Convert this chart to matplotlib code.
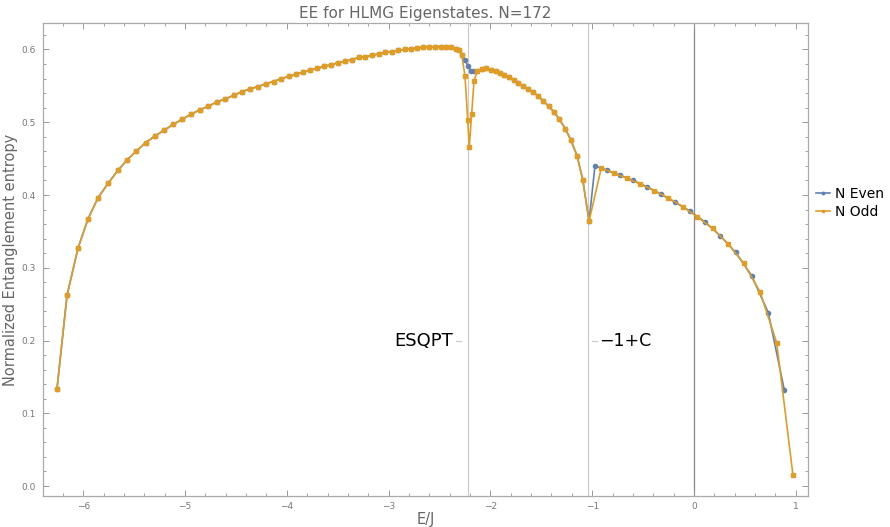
import numpy as np
import matplotlib.pyplot as plt
from matplotlib.ticker import MultipleLocator

# energies (E/J) and normalized entanglement entropy
left_E = [-6.257, -6.159, -6.051, -5.953, -5.855, -5.756, -5.658, -5.570, -5.481, -5.386,
          -5.295, -5.206, -5.115, -5.029, -4.941, -4.856, -4.771, -4.686, -4.604, -4.522,
          -4.440, -4.361, -4.283, -4.204, -4.129, -4.054, -3.978, -3.905, -3.838, -3.769,
          -3.700, -3.632, -3.563, -3.494, -3.425, -3.360, -3.294, -3.229, -3.163, -3.097,
          -3.032, -2.967, -2.905, -2.842, -2.780, -2.718, -2.659, -2.600, -2.541, -2.485,
          -2.433, -2.384, -2.341, -2.308, -2.282]
left_S = [0.134, 0.262, 0.327, 0.367, 0.396, 0.416, 0.434, 0.448, 0.460, 0.472,
          0.481, 0.489, 0.497, 0.504, 0.511, 0.517, 0.522, 0.528, 0.532, 0.537,
          0.542, 0.546, 0.549, 0.553, 0.556, 0.560, 0.563, 0.566, 0.569, 0.572,
          0.574, 0.577, 0.579, 0.582, 0.584, 0.586, 0.589, 0.590, 0.592, 0.594,
          0.596, 0.597, 0.599, 0.600, 0.601, 0.602, 0.603, 0.603, 0.604, 0.604,
          0.604, 0.603, 0.601, 0.599, 0.593]

mid_E = [-2.129, -2.085, -2.043, -1.997, -1.948, -1.906, -1.863, -1.817, -1.771, -1.729,
         -1.680, -1.631, -1.579, -1.529, -1.480, -1.427, -1.375, -1.323, -1.264, -1.208,
         -1.149, -1.093, -1.031]
mid_S = [0.570, 0.573, 0.574, 0.572, 0.570, 0.568, 0.565, 0.562, 0.558, 0.554,
         0.550, 0.546, 0.541, 0.536, 0.529, 0.522, 0.514, 0.504, 0.491, 0.475,
         0.454, 0.421, 0.364]

odd_dip_E = [-2.250, -2.223, -2.207, -2.184, -2.161]
odd_dip_S = [0.564, 0.503, 0.466, 0.512, 0.557]
even_dip_E = [-2.250, -2.220, -2.191, -2.161]
even_dip_S = [0.586, 0.577, 0.571, 0.570]

odd_right_E = [-0.911, -0.786, -0.658, -0.528, -0.390, -0.252, -0.111, 0.032, 0.184, 0.334,
               0.488, 0.648, 0.812, 0.972]
odd_right_S = [0.437, 0.430, 0.423, 0.415, 0.406, 0.396, 0.384, 0.370, 0.354, 0.333,
               0.306, 0.267, 0.197, 0.015]
even_right_E = [-0.973, -0.852, -0.724, -0.596, -0.459, -0.324, -0.184, -0.042, 0.108, 0.258,
                0.410, 0.567, 0.730, 0.887]
even_right_S = [0.440, 0.434, 0.427, 0.420, 0.411, 0.401, 0.390, 0.378, 0.363, 0.344,
                0.321, 0.289, 0.238, 0.132]

E_even = left_E + even_dip_E + mid_E + even_right_E
S_even = left_S + even_dip_S + mid_S + even_right_S
E_odd = left_E + odd_dip_E + mid_E + odd_right_E
S_odd = left_S + odd_dip_S + mid_S + odd_right_S

E_esqpt = -2.217
E_c = -1.038

blue = "#5E81B5"
orange = "#E19C24"
grey = "#999999"

fig = plt.figure(figsize=(8.9, 5.27), dpi=100)
ax = fig.add_axes([0.0483, 0.0588, 0.8596, 0.897])

ax.axvline(0, color="#888888", lw=0.9, zorder=1)
ax.axvline(E_esqpt, color="#cccccc", lw=0.9, zorder=1)
ax.axvline(E_c, color="#cccccc", lw=0.9, zorder=1)

ax.plot(E_even, S_even, color=blue, lw=1.2, marker="o", ms=3, label="N Even", zorder=3)
ax.plot(E_odd, S_odd, color=orange, lw=1.2, marker="s", ms=3.2, label="N Odd", zorder=4)

# labels of the two critical energies
ax.text(-2.367, 0.2, "ESQPT", ha="right", va="center", fontsize=13, color="black")
ax.plot([-2.338, -2.289], [0.2, 0.2], color="#cccccc", lw=0.9)
ax.plot([-1.002, -0.953], [0.2, 0.2], color="#cccccc", lw=0.9)
ax.text(-0.933, 0.2, "\u22121+C", ha="left", va="center", fontsize=12.5, color="black")

ax.set_xlim(-6.395, 1.12)
ax.set_ylim(-0.0137, 0.636)
ax.xaxis.set_major_locator(MultipleLocator(1))
ax.xaxis.set_minor_locator(MultipleLocator(0.2))
ax.yaxis.set_major_locator(MultipleLocator(0.1))
ax.yaxis.set_minor_locator(MultipleLocator(0.02))
ax.xaxis.set_major_formatter(plt.FuncFormatter(lambda v, p: f"{v:.0f}".replace("-", "\u2212")))
ax.tick_params(which="both", direction="in", top=True, right=True, color=grey,
               labelsize=6.5, labelcolor="#777777")
ax.tick_params(which="major", length=4, width=0.7)
ax.tick_params(which="minor", length=2.5, width=0.6)
ax.tick_params(axis="x", pad=4)
ax.tick_params(axis="y", pad=5)
for s in ax.spines.values():
    s.set_color("#aaaaaa")
    s.set_linewidth(0.9)

ax.set_title("EE for HLMG Eigenstates. N=172", fontsize=11, color="#666666", pad=4)
ax.set_xlabel("E/J", fontsize=10.5, color="#666666", labelpad=1)
ax.set_ylabel("Normalized Entanglement entropy", fontsize=10.5, color="#666666", labelpad=3)

ax.legend(loc="center left", bbox_to_anchor=(0.998, 0.62), frameon=False, fontsize=10,
          handlelength=1.0, handletextpad=0.35, markerscale=0.6, labelspacing=0.25,
          borderaxespad=0.3)

fig.savefig("out.png", dpi=100)
